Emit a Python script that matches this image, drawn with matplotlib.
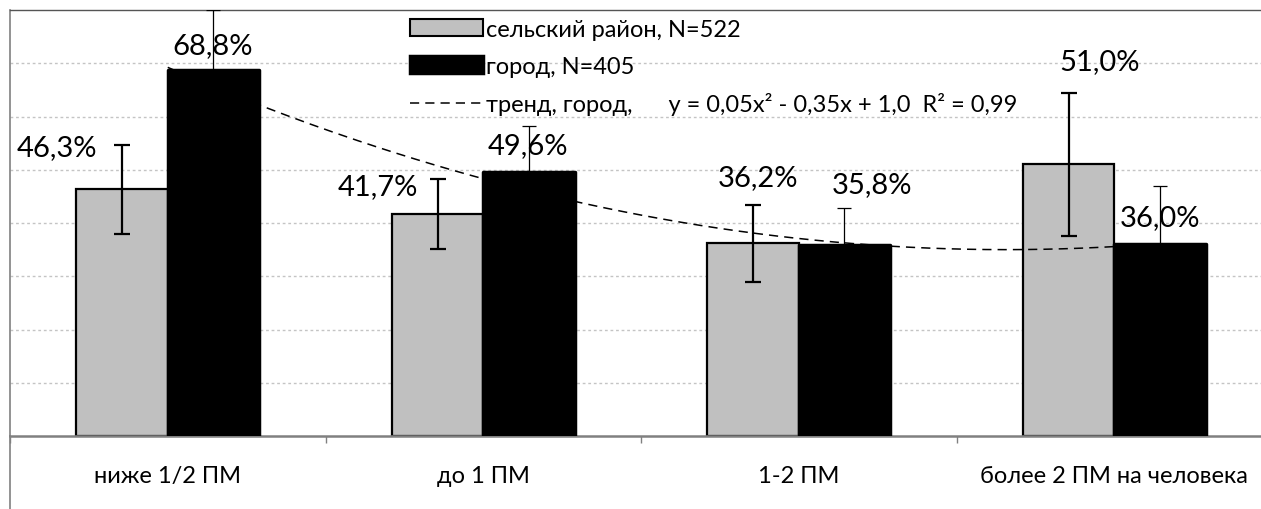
import numpy as np
import matplotlib
matplotlib.use("Agg")
import matplotlib.pyplot as plt
from matplotlib.patches import Patch
from matplotlib.lines import Line2D

plt.rcParams["font.family"] = ["Lato", "DejaVu Sans"]

# --- data ---
categories = ["ниже 1/2 ПМ", "до 1 ПМ", "1-2 ПМ", "более 2 ПМ на человека"]
rural = [46.3, 41.7, 36.2, 51.0]
rural_err = [8.3, 6.5, 7.2, 13.4]
city = [68.8, 49.6, 35.8, 36.0]
city_err = [11.2, 8.6, 7.0, 10.9]
rural_label = "сельский район, N=522"
city_label = "город, N=405"
trend_label = "тренд, город,      y = 0,05x² - 0,35x + 1,0  R² = 0,99"

# label placement (x offset from category centre, baseline y in %)
rural_lbl_pos = [(-0.351, 52.7), (-0.334, 45.4), (-0.129, 47.1), (-0.045, 69.0)]
city_lbl_pos = [(0.143, 72.0), (0.142, 53.1), (0.232, 45.8), (0.145, 39.6)]


def fmt(v):
    return f"{v:.1f}%".replace(".", ",")


W, H = 1261, 510
fig = plt.figure(figsize=(W / 100, H / 100), dpi=100)
# plot area: left 10px, baseline at 437px, top at 11px, extends past right edge
ax = fig.add_axes([10 / W, (H - 437) / H, 1262 / W, 426 / H])

x = np.arange(len(categories))
w = 0.29

ax.bar(x - w / 2, rural, w, color="#c0c0c0", edgecolor="black",
       linewidth=1.6, zorder=2)
ax.errorbar(x - w / 2, rural, yerr=rural_err, fmt="none", ecolor="black",
            elinewidth=1.6, capsize=6, capthick=1.6, zorder=3)

# trend of city series (quadratic through category positions 1..4)
xs = np.arange(1, len(city) + 1)
coef = np.polyfit(xs, city, 2)
xt = np.linspace(1, len(city), 200)
ax.plot(xt - 1, np.polyval(coef, xt), color="black", lw=1.1,
        linestyle=(0, (6, 4)), zorder=3.5)

ax.bar(x + w / 2, city, w, color="black", edgecolor="black",
       linewidth=2.5, joinstyle="round", zorder=4)
ax.errorbar(x + w / 2, city, yerr=city_err, fmt="none", ecolor="black",
            elinewidth=0.9, capsize=5, capthick=0.9, zorder=5)

for i, v in enumerate(rural):
    dx, yb = rural_lbl_pos[i]
    ax.text(i + dx, yb, fmt(v), ha="center", va="baseline", fontsize=21,
            zorder=6)
for i, v in enumerate(city):
    dx, yb = city_lbl_pos[i]
    ax.text(i + dx, yb, fmt(v), ha="center", va="baseline", fontsize=21,
            zorder=6)

ax.set_xlim(-0.5, 3.5)
ax.set_ylim(0, 80)
ax.set_yticks(np.arange(10, 80, 10))
ax.set_yticklabels([])
ax.tick_params(axis="y", length=0)
ax.yaxis.grid(True, color="#c4c4c4", linestyle=(0, (2, 2)), linewidth=1)
ax.set_axisbelow(True)

ax.set_xticks(x)
ax.set_xticklabels(categories, fontsize=17)
ax.tick_params(axis="x", length=0, pad=21)
ax.set_xticks(np.arange(-0.5, 3.6, 1), minor=True)
ax.tick_params(axis="x", which="minor", length=5, color="#808080", width=1)

ax.spines["right"].set_visible(False)
ax.spines["top"].set_color("#555555")
ax.spines["top"].set_linewidth(1)
ax.spines["left"].set_color("#808080")
ax.spines["left"].set_linewidth(1.2)
ax.spines["bottom"].set_color("#808080")
ax.spines["bottom"].set_linewidth(1.8)

# chart border continuing below the baseline on the left
fig.add_artist(Line2D([10 / W, 10 / W], [0, (H - 437) / H],
                      color="#808080", lw=1.2, transform=fig.transFigure))

handles = [
    Patch(facecolor="#c0c0c0", edgecolor="black", linewidth=1.5),
    Patch(facecolor="black", edgecolor="black", linewidth=2.5),
    Line2D([0], [0], color="black", lw=1.1, linestyle=(0, (6, 4))),
]
leg = ax.legend(handles, [rural_label, city_label, trend_label],
                loc="upper left", bbox_to_anchor=(410 / W, 1 - 20 / H),
                bbox_transform=fig.transFigure, frameon=False, fontsize=17,
                handlelength=3.1, handleheight=0.7, handletextpad=0.12,
                labelspacing=0.66, borderaxespad=0, borderpad=0)
leg.set_zorder(7)

fig.savefig("out.png", dpi=100)
